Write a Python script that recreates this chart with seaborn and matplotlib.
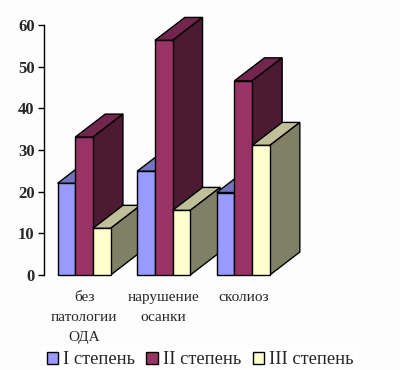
import matplotlib
matplotlib.use("Agg")
import matplotlib.pyplot as plt
import pandas as pd
import seaborn as sns
from matplotlib.patches import Polygon, Patch

categories = ["без\nпатологии\nОДА", "нарушение\nосанки", "сколиоз"]
series = ["I степень", "II степень", "III степень"]
values_1 = [22.0, 24.9, 19.8]
values_2 = [33.1, 56.3, 46.6]
values_3 = [11.2, 15.5, 31.1]
y_ticks = [0, 10, 20, 30, 40, 50, 60]

front_colors = ["#9999FF", "#993366", "#FFFFCC"]
top_colors = ["#7373BF", "#73264D", "#BFBF99"]
side_colors = ["#4D4D80", "#4D1A33", "#808066"]

df = pd.DataFrame({
    "cat": categories * 3,
    "series": [s for s in series for _ in categories],
    "value": values_1 + values_2 + values_3,
})

sns.set_style("white")
plt.rcParams["font.family"] = ["Liberation Serif", "DejaVu Serif"]

W, H = 400, 370
fig = plt.figure(figsize=(W / 100, H / 100), dpi=100, facecolor="#FDFDFD")
ax = fig.add_axes([44.3 / W, 1 - 275 / H, 238.8 / W, 250 / H], facecolor="none")

sns.barplot(data=df, x="cat", y="value", hue="series", hue_order=series,
            palette=front_colors, saturation=1, width=0.667, gap=0, dodge=True, legend=False,
            edgecolor="black", linewidth=1, ax=ax, errorbar=None)
ax.set_xlim(-0.5, 2.5)
ax.set_ylim(0, 60)

# depth of the fake 3d boxes, in data units
dx = 30 / 79.6
dy = 23 / (250 / 60)

bars = sorted(ax.patches, key=lambda b: b.get_x())
for i, b in enumerate(bars):
    x0, x1, h = b.get_x(), b.get_x() + b.get_width(), b.get_height()
    c = i % 3
    z = 3 * i + 3
    top = Polygon([(x0, h), (x1, h), (x1 + dx, h + dy), (x0 + dx, h + dy)],
                  facecolor=top_colors[c], edgecolor="black", lw=1, zorder=z, clip_on=False)
    side = Polygon([(x1, 0), (x1 + dx, dy), (x1 + dx, h + dy), (x1, h)],
                   facecolor=side_colors[c], edgecolor="black", lw=1, zorder=z, clip_on=False)
    ax.add_patch(top)
    ax.add_patch(side)
    b.set_zorder(z + 1)
    b.set_clip_on(False)

sns.despine(ax=ax, bottom=True)
ax.spines["left"].set_linewidth(1)
ax.spines["left"].set_color("black")
ax.set_xlabel("")
ax.set_ylabel("")
ax.set_yticks(y_ticks)
ax.tick_params(axis="y", length=4, width=1, color="black", left=True, pad=3)
ax.tick_params(axis="x", length=0, pad=11.5)
for t in ax.get_yticklabels():
    t.set_fontsize(12)
    t.set_fontweight("bold")
for t in ax.get_xticklabels():
    t.set_fontsize(11)
    t.set_linespacing(1.72)

handles = [Patch(facecolor=c, edgecolor="black", lw=1) for c in front_colors]
leg = fig.legend(handles, series, loc="lower left", bbox_to_anchor=(42 / W, -3 / H), ncol=3,
                 frameon=True, fontsize=13.3, handlelength=0.6, handleheight=0.6,
                 handletextpad=0.3, columnspacing=0.6, borderpad=0.25, borderaxespad=0)
leg.get_frame().set_facecolor("white")
leg.get_frame().set_edgecolor("none")
leg.get_frame().set_boxstyle("square", pad=0)

fig.savefig("out.png", dpi=100, facecolor=fig.get_facecolor())
